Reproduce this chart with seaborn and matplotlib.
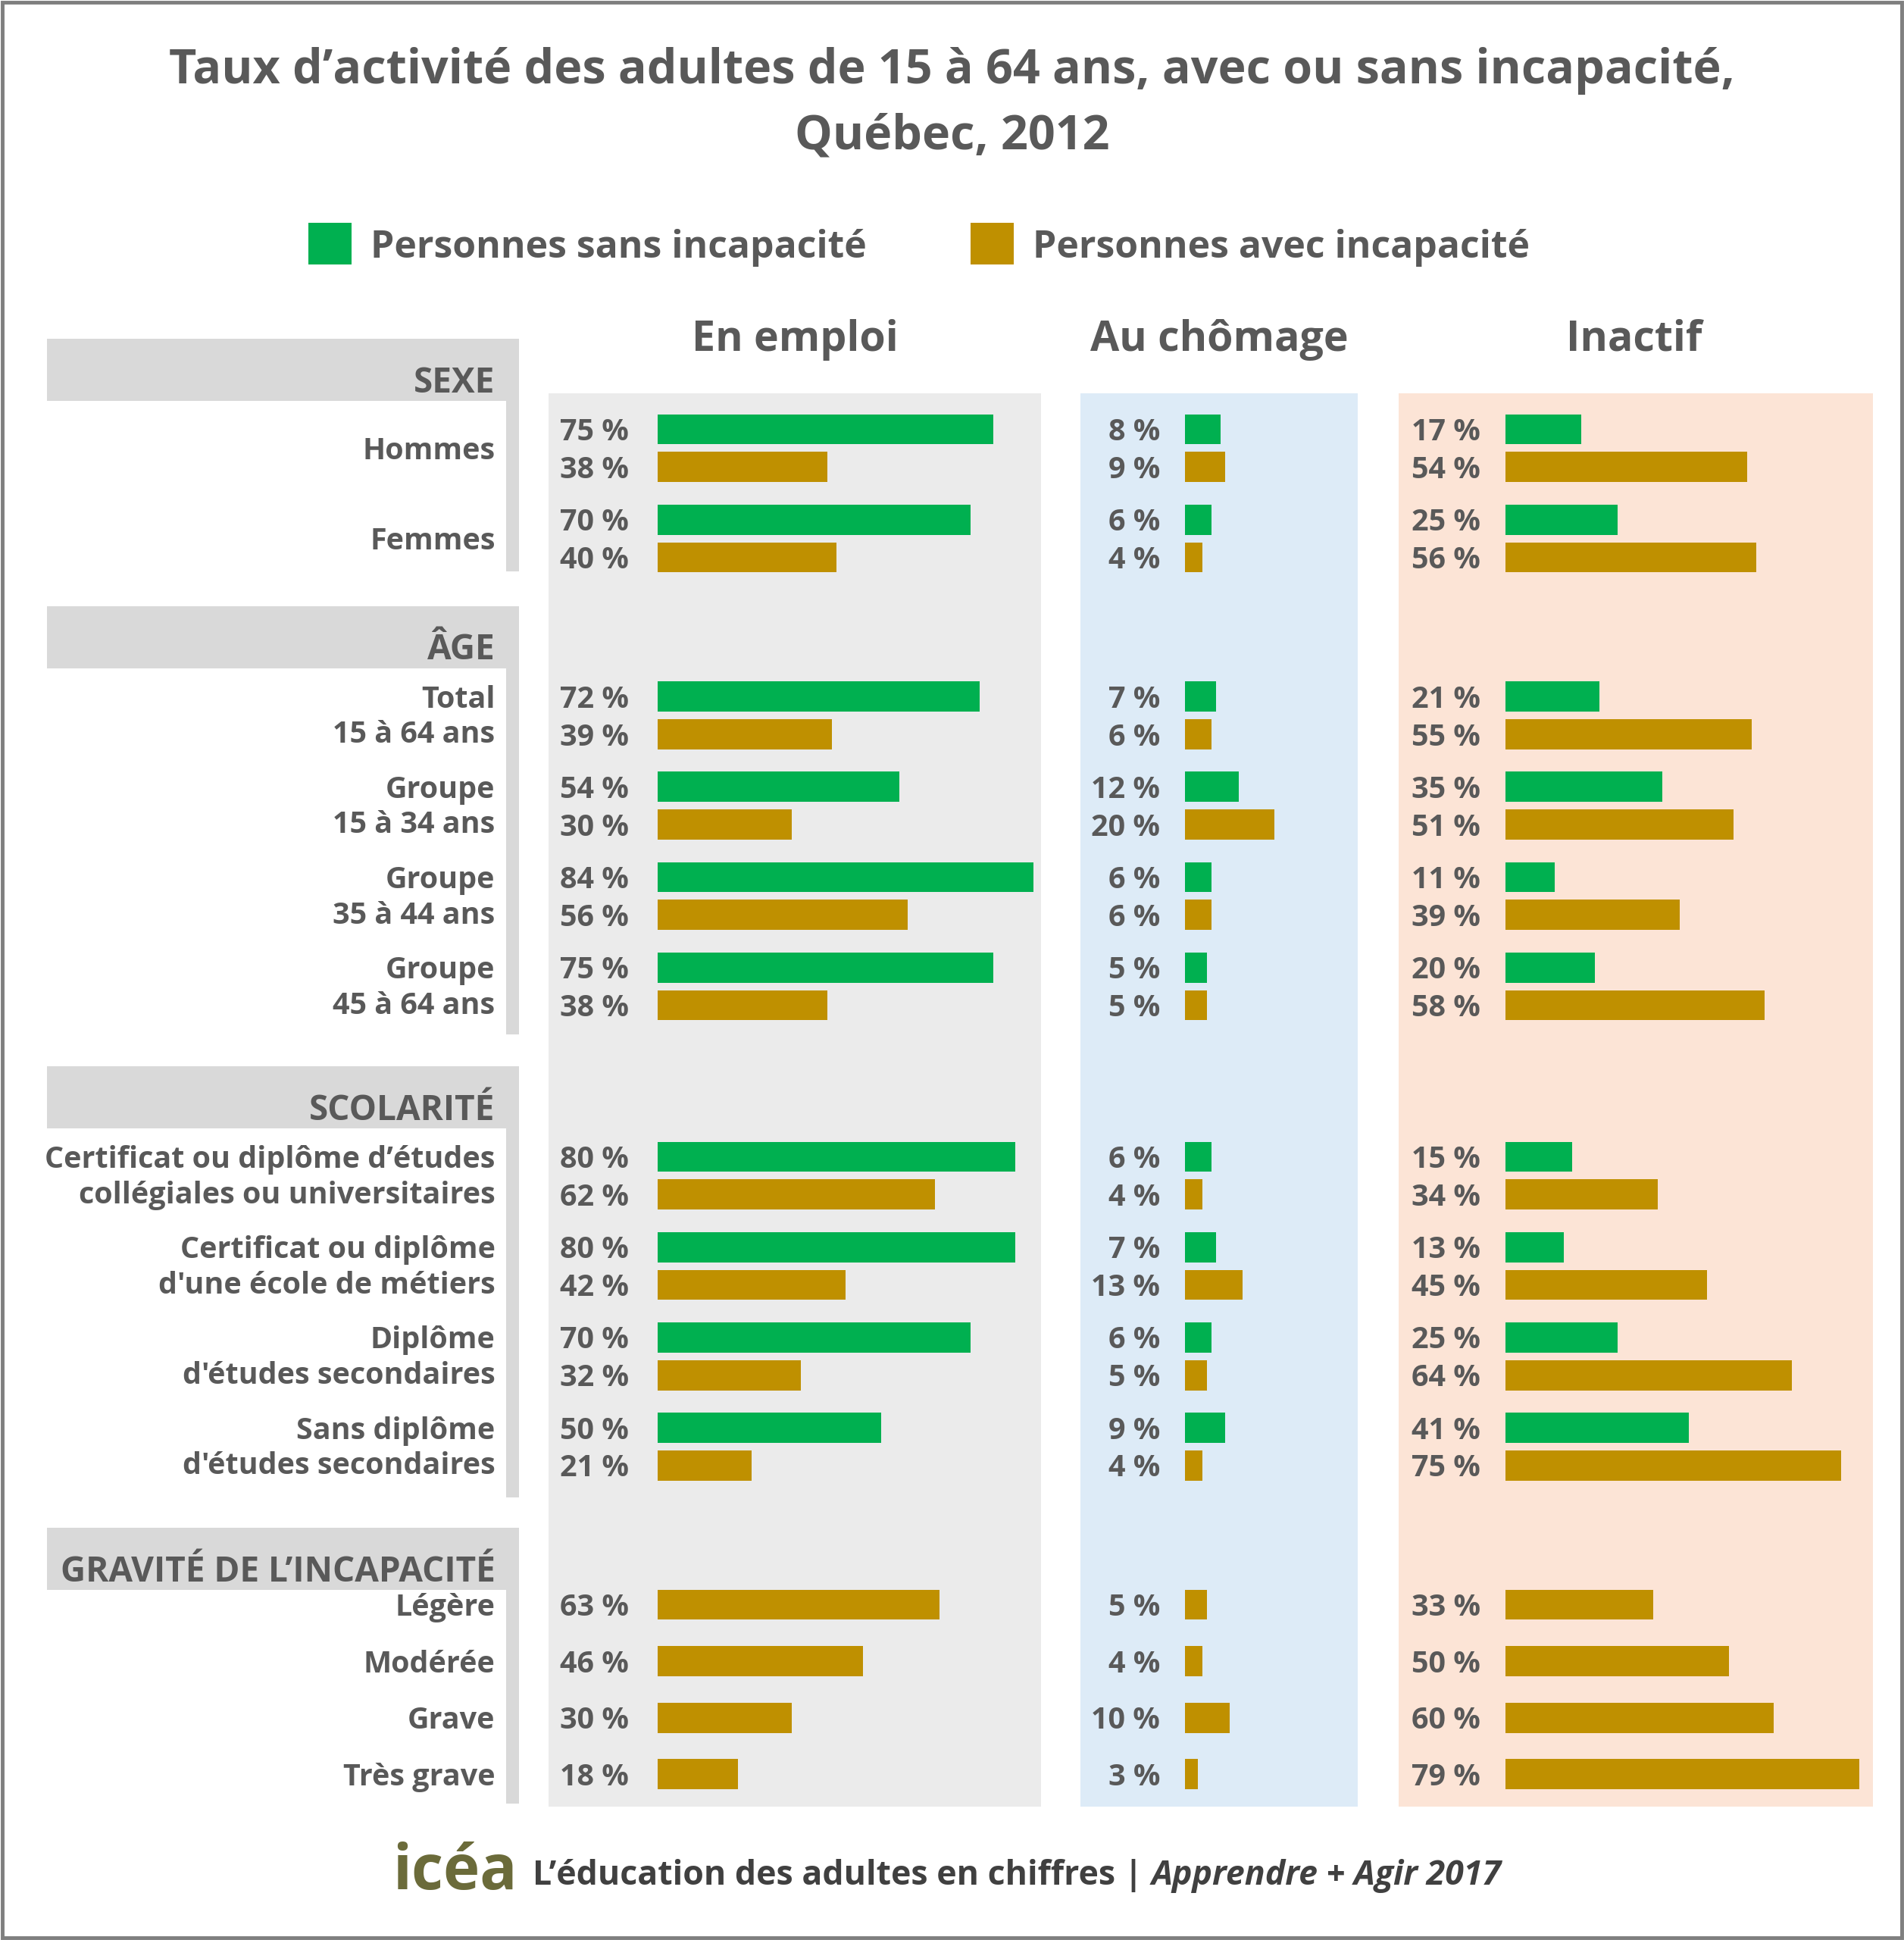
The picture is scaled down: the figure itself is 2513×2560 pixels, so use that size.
import matplotlib.pyplot as plt
import matplotlib.patches as mpatches
import seaborn as sns
import pandas as pd

# ---- data ----
sections = ["SEXE", "ÂGE", "SCOLARITÉ", "GRAVITÉ DE L’INCAPACITÉ"]
sexe = ["Hommes", "Femmes"]
age = ["Total\n15 à 64 ans", "Groupe\n15 à 34 ans", "Groupe\n35 à 44 ans", "Groupe\n45 à 64 ans"]
scolarite = [
    "Certificat ou diplôme d’études\ncollégiales ou universitaires",
    "Certificat ou diplôme\nd'une école de métiers",
    "Diplôme\nd'études secondaires",
    "Sans diplôme\nd'études secondaires",
]
gravite = ["Légère", "Modérée", "Grave", "Très grave"]

colonnes = ["En emploi", "Au chômage", "Inactif"]
groupes = ["Personnes sans incapacité", "Personnes avec incapacité"]

# sexe (2) + âge (4) + scolarité (4)
emploi_sans = [75, 70, 72, 54, 84, 75, 80, 80, 70, 50]
emploi_avec = [38, 40, 39, 30, 56, 38, 62, 42, 32, 21]
chomage_sans = [8, 6, 7, 12, 6, 5, 6, 7, 6, 9]
chomage_avec = [9, 4, 6, 20, 6, 5, 4, 13, 5, 4]
inactif_sans = [17, 25, 21, 35, 11, 20, 15, 13, 25, 41]
inactif_avec = [54, 56, 55, 51, 39, 58, 34, 45, 64, 75]
# gravité (personnes avec incapacité seulement)
emploi_grav = [63, 46, 30, 18]
chomage_grav = [5, 4, 10, 3]
inactif_grav = [33, 50, 60, 79]

# ---- style ----
GREEN = "#00B050"
GOLD = "#BF9000"
TXT = "#595959"
W, H = 1538, 1568  # layout units (reference at 1/1.634 scale)
PT = 2513 / W * 0.72  # layout px -> points
DY = 2.5  # small downward nudge for text

sns.set_theme(style="white")
plt.rcParams["font.family"] = ["Open Sans", "DejaVu Sans"]
plt.rcParams["font.weight"] = "bold"

fig = plt.figure(figsize=(25.13, 25.60), dpi=100)
bg = fig.add_axes([0, 0, 1, 1])
bg.set_xlim(0, W)
bg.set_ylim(H, 0)
bg.axis("off")

# frame
bg.add_patch(mpatches.Rectangle((2, 2), W - 4, H - 4, fill=False, ec="#7F7F7F", lw=3 * PT))

# title
TITLE = 38.4 * PT
bg.text(769, 55 + DY, "Taux d’activité des adultes de 15 à 64 ans, avec ou sans incapacité,",
        ha="center", va="center", fontsize=TITLE, color=TXT)
bg.text(769, 108 + DY, "Québec, 2012", ha="center", va="center", fontsize=TITLE, color=TXT)

# legend
for x0, col, lab in [(249, GREEN, groupes[0]), (784, GOLD, groupes[1])]:
    bg.add_patch(mpatches.Rectangle((x0, 180), 35, 34, color=col, lw=0))
    bg.text(x0 + 50, 198 + DY, lab, ha="left", va="center", fontsize=30.5 * PT, color=TXT)

# column panels + headers
panels = [(443, 841, "#EBEBEB", 642), (873, 1097, "#DDEBF7", 985), (1130, 1513, "#FCE4D6", 1320)]
for (x0, x1, col, xc), name in zip(panels, colonnes):
    bg.add_patch(mpatches.Rectangle((x0, 318), x1 - x0, 1460 - 318, color=col, lw=0))
    bg.text(xc, 272 + DY, name, ha="center", va="center", fontsize=34 * PT, color=TXT)

# row layout
hdr_tops = [274, 490, 862, 1235]
hdr_h = 50
strip_end = [462, 836, 1210, 1458]
pos_sans, pos_avec = [], []
for top, n in zip(hdr_tops[:3], [len(sexe), len(age), len(scolarite)]):
    for j in range(n):
        y = top + hdr_h + 23 + 73 * j
        pos_sans.append(y)
        pos_avec.append(y + 30.5)
pos_grav = [hdr_tops[3] + hdr_h + 12 + 45.7 * j for j in range(len(gravite))]

# left section boxes and labels
LBL = 24.2 * PT
for sec, top, end in zip(sections, hdr_tops, strip_end):
    bg.add_patch(mpatches.Rectangle((38, top), 381, hdr_h, color="#D9D9D9", lw=0))
    bg.add_patch(mpatches.Rectangle((409, top + hdr_h), 10, end - top - hdr_h, color="#D9D9D9", lw=0))
    bg.text(400, top + 33 + DY, sec, ha="right", va="center", fontsize=LBL * 1.16, color=TXT)

for lab, ys, ya in zip(sexe + age + scolarite, pos_sans, pos_avec):
    lines = lab.split("\n")
    if len(lines) == 1:
        bg.text(400, (ys + ya) / 2 + DY, lab, ha="right", va="center", fontsize=LBL, color=TXT)
    else:
        bg.text(400, ys + DY, lines[0], ha="right", va="center", fontsize=LBL, color=TXT)
        bg.text(400, ya - 2 + DY, lines[1], ha="right", va="center", fontsize=LBL, color=TXT)
for lab, y in zip(gravite, pos_grav):
    bg.text(400, y + DY, lab, ha="right", va="center", fontsize=LBL, color=TXT)

# bars: one axes per column, same vertical layout
K = 3.615  # layout px per percentage point
bar_axes = [(531, 310, 508), (957, 140, 937), (1216, 297, 1196)]
series = [
    (emploi_sans, emploi_avec, emploi_grav),
    (chomage_sans, chomage_avec, chomage_grav),
    (inactif_sans, inactif_avec, inactif_grav),
]
for (x0, wid, lab_x), (sans, avec, grav) in zip(bar_axes, series):
    ax = fig.add_axes([x0 / W, 0, wid / W, 1])
    df = pd.DataFrame({
        "pos": pos_sans + pos_avec + pos_grav,
        "val": sans + avec + grav,
        "groupe": ["sans"] * len(sans) + ["avec"] * (len(avec) + len(grav)),
    })
    sns.barplot(data=df, x="val", y="pos", hue="groupe", orient="h", native_scale=True,
                dodge=False, palette={"sans": GREEN, "avec": GOLD}, saturation=1,
                width=0.8, errorbar=None, legend=False, linewidth=0, ax=ax)
    ax.set_xlim(0, wid / K)
    ax.set_ylim(H, 0)
    ax.axis("off")
    ax.patch.set_alpha(0)
    for p, v in zip(df["pos"], df["val"]):
        bg.text(lab_x, p + DY, f"{v} %", ha="right", va="center", fontsize=LBL, color=TXT)

# footer
bg.text(418, 1514, "icéa", ha="right", va="center", fontsize=50 * PT, color="#6B6B3A")
t1 = bg.text(430, 1514 + DY, "L’éducation des adultes en chiffres | ", ha="left", va="center",
             fontsize=27.3 * PT, color="#404040")
fig.canvas.draw()
bb = t1.get_window_extent().transformed(bg.transData.inverted())
bg.text(bb.x1, 1514 + DY, "Apprendre + Agir 2017", ha="left", va="center", fontsize=27.3 * PT,
        color="#404040", style="italic")

fig.savefig("out.png", dpi=100)
